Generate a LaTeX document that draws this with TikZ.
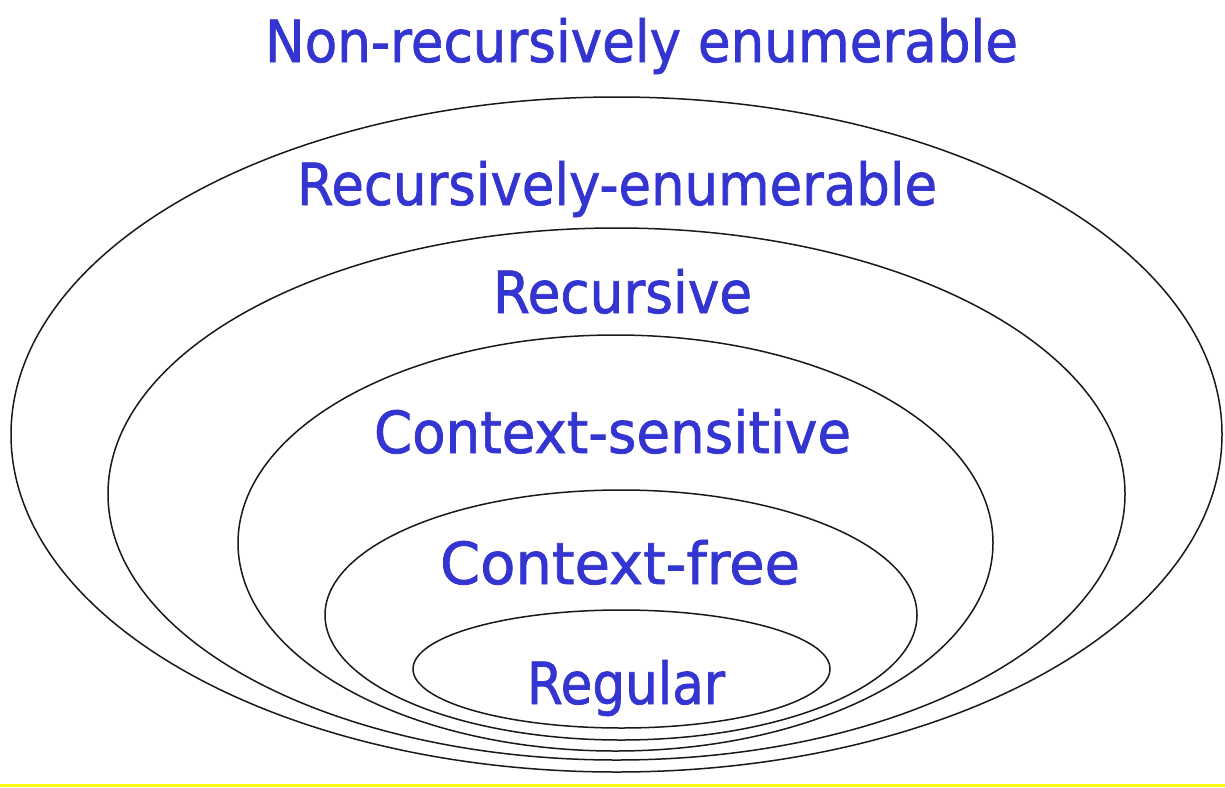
\documentclass[tikz,border=0pt]{standalone}
\usepackage{graphicx}
\usepackage{fontspec}
\newfontfamily\lblfont{DejaVu Sans}[FakeBold=1.3]
\definecolor{lblblue}{RGB}{52,52,208}
\definecolor{stripe}{RGB}{255,255,20}
\tikzset{
  lbl/.style={text=lblblue, font=\lblfont\fontsize{58}{60}\selectfont, inner sep=0pt, anchor=base},
  ring/.style={draw=black!90, line width=1.5pt}
}
% fit a label to a given width, keeping its height
\newcommand{\fitw}[2]{\resizebox{#1}{\height}{#2}}
\begin{document}
\begin{tikzpicture}[x=1pt,y=-1pt]
  \useasboundingbox (0,0) rectangle (1225,787);
  \fill[white] (0,0) rectangle (1225,787);
  \fill[stripe] (0,783.5) rectangle (1225,787);

  % nested language classes
  \draw[ring] (616.5,434.5) ellipse [x radius=605.5, y radius=337.5];
  \draw[ring] (616.5,494)   ellipse [x radius=508.5, y radius=266];
  \draw[ring] (615.5,543)   ellipse [x radius=377.5, y radius=208];
  \draw[ring] (621,615)     ellipse [x radius=296,   y radius=125];
  \draw[ring] (621.5,669)   ellipse [x radius=208.5, y radius=59];

  % class names
  \node[lbl] (nre) at (641.5,62)  {\fitw{753pt}{Non-recursively enumerable}};
  \node[lbl] (re)  at (617,205)   {\fitw{640pt}{Recursively-enumerable}};
  \node[lbl] (rec) at (622.5,313) {\fitw{259pt}{Recursive}};
  \node[lbl] (cs)  at (612.5,453) {\fitw{477pt}{Context-sensitive}};
  \node[lbl] (cf)  at (620,584)   {\fitw{360pt}{Context-free}};
  \node[lbl] (reg) at (626,704)   {\fitw{198pt}{Regular}};
\end{tikzpicture}
\end{document}
